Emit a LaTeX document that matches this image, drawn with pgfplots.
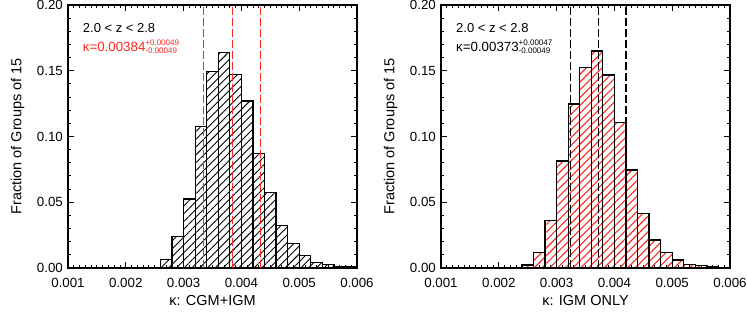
\documentclass[border=0pt]{standalone}
\usepackage{fontspec}
\setmainfont{Liberation Sans}
\usepackage{pgfplots}
\pgfplotsset{compat=1.18}
\usetikzlibrary{patterns.meta}
\definecolor{idlred}{RGB}{250,40,30}
\newcommand\scr[2]{\raisebox{-2.7pt}{\fontsize{8}{9}\selectfont\begin{tabular}[b]{@{}l@{}}#1\\[-0.7pt]#2\end{tabular}}}

\pgfplotstableread{
x y
0.0022 0.0000
0.0024 0.0006
0.0026 0.0066
0.0028 0.0238
0.0030 0.0525
0.0032 0.1075
0.0034 0.1493
0.0036 0.1640
0.0038 0.1470
0.0040 0.1270
0.0042 0.0872
0.0044 0.0573
0.0046 0.0321
0.0048 0.0186
0.0050 0.0093
0.0052 0.0043
0.0054 0.0025
0.0056 0.0010
0.0058 0.0008
0.0060 0.0008
}\cgmigm

\pgfplotstableread{
x y
0.0022 0.0004
0.0024 0.0023
0.0026 0.0119
0.0028 0.0360
0.0030 0.0814
0.0032 0.1247
0.0034 0.1526
0.0036 0.1650
0.0038 0.1468
0.0040 0.1108
0.0042 0.0745
0.0044 0.0416
0.0046 0.0213
0.0048 0.0119
0.0050 0.0061
0.0052 0.0028
0.0054 0.0018
0.0056 0.0010
0.0058 0.0006
0.0060 0.0006
}\igmonly

\pgfplotsset{
  hpanel/.style={
    scale only axis, width=289pt, height=263pt,
    xmin=0.001, xmax=0.006, ymin=0, ymax=0.2,
    xtick={0.001,0.002,0.003,0.004,0.005,0.006},
    ytick={0,0.05,0.10,0.15,0.20},
    minor x tick num=9, minor y tick num=4,
    tick align=inside,
    major tick length=6pt, minor tick length=3pt,
    every tick/.style={black, line width=0.9pt},
    axis line style={line width=1.4pt},
    scaled x ticks=false, scaled y ticks=false,
    xticklabel style={/pgf/number format/.cd, fixed, fixed zerofill, precision=3, assume math mode=true, /tikz/.cd, font=\fontsize{13.3}{15}\selectfont, anchor=center, yshift=-15pt},
    yticklabel style={/pgf/number format/.cd, fixed, fixed zerofill, precision=2, assume math mode=true, /tikz/.cd, font=\fontsize{13.3}{15}\selectfont, anchor=east, inner sep=0pt, xshift=-5pt},
    ylabel style={at={(axis description cs:-0.1747,0.5)}, anchor=center, font=\fontsize{14.5}{16}\selectfont},
    xlabel style={at={(axis description cs:0.5,-0.1243)}, anchor=center, font=\fontsize{14.5}{16}\selectfont},
    ylabel={Fraction of Groups of 15},
  },
}

\begin{document}
\begin{tikzpicture}[x=1pt,y=1pt]
\begin{axis}[hpanel, at={(68pt,44pt)}, anchor=south west, xlabel={κ: CGM+IGM}]
  \addplot[ybar interval, draw=black, line width=1.3pt, pattern={Lines[angle=45,distance=5.5pt,line width=0.9pt]}, pattern color=black] table[x=x,y=y] {\cgmigm};
  \addplot[idlred, line width=1.3pt, dash pattern=on 7.5pt off 3.5pt] coordinates {(0.00335,0) (0.00335,0.2)};
  \addplot[idlred, line width=1.3pt, dash pattern=on 7.5pt off 3.5pt] coordinates {(0.00384,0) (0.00384,0.2)};
  \addplot[idlred, line width=1.3pt, dash pattern=on 7.5pt off 3.5pt] coordinates {(0.00433,0) (0.00433,0.2)};
  \node[anchor=west, inner sep=0pt, font=\fontsize{13}{15}\selectfont] at (axis description cs:0.051,0.9125) {2.0 < z < 2.8};
  \node[anchor=base west, inner sep=0pt, text=idlred, font=\fontsize{13.3}{15}\selectfont] at (axis description cs:0.051,0.824) {κ=0.00384\scr{+0.00049}{-0.00049}};
\end{axis}
\begin{axis}[hpanel, at={(441pt,44pt)}, anchor=south west, xlabel={κ: IGM ONLY}]
  \addplot[ybar interval, draw=black, line width=1.3pt, pattern={Lines[angle=45,distance=5.5pt,line width=1.1pt]}, pattern color=idlred] table[x=x,y=y] {\igmonly};
  \addplot[black, line width=1.3pt, dash pattern=on 7.5pt off 3.5pt] coordinates {(0.00324,0) (0.00324,0.2)};
  \addplot[black, line width=1.3pt, dash pattern=on 7.5pt off 3.5pt] coordinates {(0.00373,0) (0.00373,0.2)};
  \addplot[black, line width=1.3pt, dash pattern=on 7.5pt off 3.5pt] coordinates {(0.00420,0) (0.00420,0.2)};
  \node[anchor=west, inner sep=0pt, font=\fontsize{13}{15}\selectfont] at (axis description cs:0.052,0.9125) {2.0 < z < 2.8};
  \node[anchor=base west, inner sep=0pt, font=\fontsize{13.3}{15}\selectfont] at (axis description cs:0.052,0.824) {κ=0.00373\scr{+0.00047}{-0.00049}};
\end{axis}
\pgfresetboundingbox
\path[use as bounding box] (0,0) rectangle (747pt,312pt);
\end{tikzpicture}
\end{document}
